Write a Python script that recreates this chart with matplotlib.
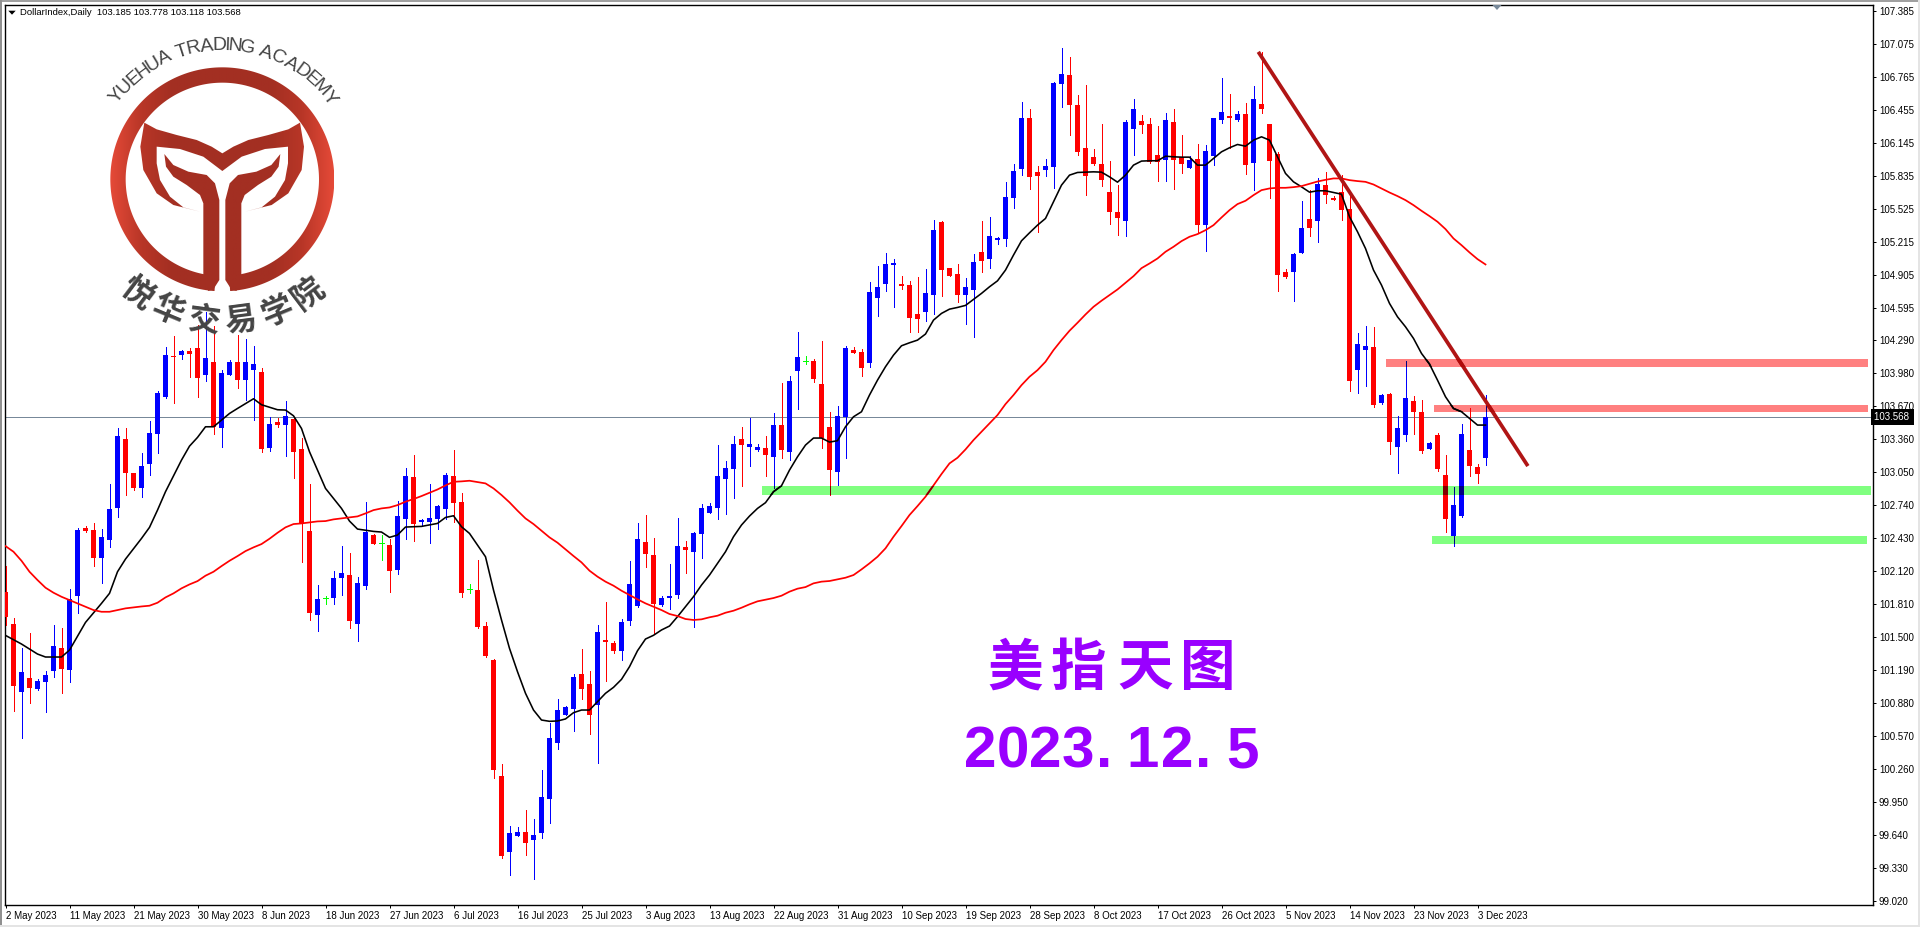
import numpy as np
import matplotlib
matplotlib.use("Agg")
import matplotlib.pyplot as plt
from matplotlib.colors import LinearSegmentedColormap, to_rgb
from matplotlib.font_manager import FontProperties
from matplotlib.patches import PathPatch, Polygon, Rectangle
from matplotlib.path import Path
from matplotlib.textpath import TextPath


COL_UP = "#0000FF"
COL_DOWN = "#FF0000"
COL_DOJI = "#00FF00"
COL_LAST = "#778899"
COL_TREND = "#B01515"
COL_TEXT = "#9900FF"
COL_LOGO_TEXT = "#444444"
UI_FONT = "Liberation Sans"
CJK_FONT = "Noto Sans CJK SC"

plt.rcParams.update({
    "font.family": [UI_FONT, "DejaVu Sans"],
    "font.size": 7.0,
    "axes.linewidth": 1.0,
    "xtick.major.size": 2.4,
    "ytick.major.size": 2.4,
    "xtick.major.width": 0.72,
    "ytick.major.width": 0.72,
})

# r = down, b = up, g = doji
SIDES = (
    "rrbrbbbrbb" "rrbbbrrbbb" "brbrrbrbbr" "bbrbrbrrrb" "gbbrbbrgrb"
    "brbbbbrrgr" "rrrbbrbbbb" "bbrrbrrbbb" "rrbbbrbbbb" "bbrbbrbrbb"
    "grrrbbrrbb" "bbrrrbbrrr" "bbrbbbbbrr" "bbbrrrrrrr" "bbrrrbrrbr"
    "bbbrbrbrrr" "rbbrbrrrrb" "brbrbbrrbr" "rbbrrb"
)

HIGH = [
    102.169, 101.678, 101.396, 101.537, 101.105, 101.180, 101.615, 101.584, 101.950, 102.523,
    102.545, 102.570, 102.514, 102.940, 103.462, 103.462, 103.043, 103.228, 103.528, 103.810,
    104.223, 104.330, 104.198, 104.214, 104.433, 104.558, 104.424, 104.010, 104.104, 104.339,
    104.302, 104.236, 104.026, 103.566, 103.556, 103.719, 103.572, 103.372, 102.940, 101.991,
    101.891, 102.119, 102.357, 102.291, 102.066, 102.770, 102.470, 102.461, 102.423, 102.780,
    103.090, 103.212, 102.611, 102.940, 102.742, 103.043, 103.259, 102.855, 102.000, 102.226,
    101.644, 101.293, 100.310, 99.724, 99.715, 99.878, 99.796, 100.254, 100.692, 100.924,
    100.852, 101.155, 101.390, 101.187, 101.616, 101.829, 101.462, 101.669, 102.220, 102.574,
    102.649, 102.433, 101.891, 102.192, 102.621, 102.408, 102.492, 102.752, 102.762, 103.309,
    103.153, 103.391, 103.475, 103.563, 103.319, 103.390, 103.606, 103.888, 103.954, 104.367,
    104.139, 104.114, 104.283, 103.616, 103.672, 104.236, 104.226, 104.208, 104.837, 104.987,
    105.109, 105.053, 104.893, 104.846, 104.884, 104.959, 105.419, 105.410, 104.968, 105.006,
    104.875, 105.100, 105.410, 105.447, 105.260, 105.776, 105.945, 106.528, 106.462, 105.927,
    105.992, 106.716, 107.035, 106.950, 106.593, 106.687, 106.086, 106.321, 105.974, 105.748,
    106.359, 106.556, 106.406, 106.377, 106.302, 106.424, 106.462, 106.218, 106.020, 106.133,
    106.124, 106.377, 106.753, 106.603, 106.443, 106.518, 106.678, 107.000, 106.321, 106.061,
    104.959, 105.109, 105.598, 105.701, 105.814, 105.870, 105.645, 105.842, 105.685, 104.358,
    104.424, 104.414, 103.785, 103.794, 103.578, 104.095, 103.766, 103.729, 103.334, 103.419,
    103.212, 102.911, 103.503, 103.653, 103.127, 103.778,
]

BODY_TOP = [
    101.925, 101.625, 101.174, 101.117, 101.089, 101.145, 101.418, 101.396, 101.856, 102.507,
    102.526, 102.507, 102.439, 102.702, 103.390, 103.359, 103.043, 103.109, 103.415, 103.791,
    104.148, 104.142, 104.189, 104.189, 104.214, 104.123, 104.085, 103.982, 104.085, 104.085,
    104.085, 104.067, 103.992, 103.503, 103.522, 103.578, 103.550, 103.265, 102.498, 101.859,
    101.869, 102.057, 102.104, 102.085, 102.010, 102.489, 102.461, 102.385, 102.367, 102.639,
    103.015, 103.005, 102.601, 102.620, 102.733, 103.024, 103.015, 102.770, 101.953, 101.944,
    101.606, 101.287, 100.197, 99.659, 99.668, 99.668, 99.640, 100.003, 100.551, 100.814,
    100.842, 101.130, 101.158, 101.065, 101.550, 101.475, 101.446, 101.644, 101.998, 102.423,
    102.398, 102.276, 101.866, 101.885, 102.361, 102.351, 102.483, 102.715, 102.733, 103.012,
    103.087, 103.319, 103.366, 103.319, 103.291, 103.278, 103.494, 103.494, 103.907, 104.132,
    104.095, 104.095, 103.879, 103.475, 103.578, 104.217, 104.198, 104.179, 104.743, 104.790,
    105.006, 105.015, 104.818, 104.809, 104.536, 104.734, 105.325, 105.401, 104.968, 104.912,
    104.790, 105.025, 105.119, 105.269, 105.250, 105.635, 105.880, 106.377, 106.377, 105.870,
    105.927, 106.706, 106.791, 106.781, 106.500, 106.096, 106.011, 105.945, 105.682, 105.494,
    106.340, 106.462, 106.349, 106.321, 106.030, 106.359, 106.340, 106.011, 105.983, 105.992,
    106.067, 106.377, 106.434, 106.396, 106.415, 106.415, 106.556, 106.509, 106.321, 106.039,
    104.931, 105.100, 105.344, 105.429, 105.757, 105.748, 105.626, 105.682, 105.523, 104.255,
    104.236, 104.226, 103.775, 103.785, 103.465, 103.747, 103.719, 103.616, 103.325, 103.400,
    103.024, 102.742, 103.409, 103.259, 103.099, 103.568,
]

BODY_BOT = [
    101.693, 101.045, 100.989, 101.027, 101.017, 101.080, 101.186, 101.205, 101.196, 101.891,
    102.498, 102.248, 102.248, 102.417, 102.717, 103.046, 102.905, 102.905, 103.131, 103.412,
    103.760, 104.136, 104.154, 104.161, 103.938, 103.963, 103.478, 103.469, 103.963, 103.916,
    103.916, 104.010, 103.271, 103.278, 103.491, 103.494, 103.243, 102.564, 101.728, 101.709,
    101.869, 101.869, 102.057, 101.653, 101.625, 101.981, 102.376, 102.385, 102.122, 102.132,
    102.611, 102.564, 102.583, 102.583, 102.611, 102.705, 102.761, 101.916, 101.953, 101.596,
    101.324, 100.254, 99.446, 99.483, 99.630, 99.565, 99.593, 99.659, 99.978, 100.507,
    100.767, 100.823, 101.018, 100.767, 100.861, 101.456, 101.371, 101.371, 101.653, 101.791,
    102.286, 101.810, 101.800, 101.866, 101.894, 102.323, 102.304, 102.470, 102.668, 102.715,
    102.984, 103.078, 103.309, 103.291, 103.262, 103.212, 103.193, 103.259, 103.240, 104.001,
    104.095, 103.926, 103.372, 103.071, 103.052, 103.569, 104.170, 104.029, 104.076, 104.687,
    104.818, 104.997, 104.799, 104.499, 104.489, 104.555, 104.715, 104.950, 104.893, 104.715,
    104.715, 104.762, 105.034, 105.053, 105.231, 105.241, 105.626, 105.898, 105.823, 105.833,
    105.889, 105.917, 106.697, 106.500, 106.058, 105.833, 105.945, 105.795, 105.494, 105.438,
    105.410, 106.274, 106.312, 105.964, 105.964, 105.983, 105.983, 105.945, 105.908, 105.372,
    105.372, 106.020, 106.359, 106.377, 106.359, 105.936, 105.955, 106.462, 105.974, 104.903,
    104.884, 104.931, 105.109, 105.344, 105.410, 105.654, 105.607, 105.513, 103.907, 104.010,
    104.198, 103.682, 103.700, 103.334, 103.287, 103.400, 103.616, 103.249, 103.268, 103.080,
    102.611, 102.451, 102.639, 103.109, 103.033, 103.185,
]

LOW = [
    101.615, 100.810, 100.551, 100.879, 101.005, 100.801, 101.130, 100.980, 101.083, 101.731,
    102.489, 102.169, 102.013, 102.351, 102.633, 102.839, 102.883, 102.821, 103.024, 103.234,
    103.750, 103.697, 104.117, 103.948, 103.760, 103.907, 103.409, 103.290, 103.963, 103.844,
    103.729, 103.544, 103.243, 103.253, 103.478, 103.203, 102.999, 102.207, 101.662, 101.559,
    101.816, 101.812, 101.897, 101.587, 101.465, 101.953, 102.376, 102.226, 101.925, 102.094,
    102.423, 102.404, 102.545, 102.385, 102.517, 102.611, 102.583, 101.878, 101.916, 101.587,
    101.315, 100.178, 99.424, 99.267, 99.630, 99.452, 99.230, 99.612, 99.753, 100.451,
    100.767, 100.617, 100.924, 100.589, 100.319, 101.093, 101.353, 101.287, 101.616, 101.782,
    102.163, 101.540, 101.791, 101.763, 101.866, 102.107, 101.597, 102.248, 102.668, 102.611,
    102.658, 102.805, 102.918, 103.106, 103.253, 103.018, 102.905, 103.184, 103.165, 103.644,
    104.064, 103.898, 103.278, 102.836, 102.930, 103.184, 104.170, 103.954, 104.039, 104.518,
    104.752, 104.602, 104.771, 104.367, 104.367, 104.471, 104.536, 104.705, 104.893, 104.649,
    104.442, 104.320, 104.931, 104.968, 105.194, 105.175, 105.532, 105.842, 105.710, 105.307,
    105.833, 105.720, 106.481, 106.218, 106.030, 105.654, 105.936, 105.739, 105.382, 105.278,
    105.269, 106.030, 106.237, 105.955, 105.786, 105.786, 105.710, 105.861, 105.908, 105.297,
    105.128, 105.936, 106.330, 106.096, 106.349, 105.851, 105.701, 106.424, 105.626, 104.752,
    104.874, 104.658, 105.109, 105.269, 105.213, 105.579, 105.607, 105.419, 103.813, 103.794,
    103.860, 103.663, 103.691, 103.221, 103.043, 103.343, 103.409, 103.231, 103.268, 103.062,
    102.489, 102.357, 102.630, 103.015, 102.949, 103.118,
]

# fast average (the first stretch at every second bar or so)
FAST_BARS = [
    0, 2, 4, 5, 7, 8, 10, 12, 13, 14, 15, 17, 18, 19, 20, 22, 23, 24, 25, 26,
    28, 29, 31, 32, 34, 35, 36, 37, 38, 39, 40, 41, 42, 43, 44, 46, 47, 48, 49, 50,
    52, 54, 55, 56, 57, 58, 59,
] + list(range(60, 186))

FAST_MA = [
    101.518, 101.437, 101.343, 101.315, 101.315, 101.380, 101.640, 101.819, 101.913, 102.116,
    102.235, 102.429, 102.533, 102.695, 102.868, 103.165, 103.296, 103.378, 103.478, 103.478,
    103.603, 103.650, 103.741, 103.685, 103.638, 103.635, 103.581, 103.462, 103.243, 103.071,
    102.899, 102.805, 102.711, 102.592, 102.517, 102.495, 102.489, 102.439, 102.461, 102.536,
    102.542, 102.570, 102.626, 102.642, 102.539, 102.476, 102.367,
    102.257, 101.944, 101.663, 101.396, 101.177, 100.974, 100.817, 100.723, 100.711, 100.714,
    100.733, 100.792, 100.817, 100.817, 100.895, 100.974, 101.030, 101.105, 101.224, 101.374,
    101.484, 101.519, 101.569, 101.606, 101.694, 101.788, 101.882, 101.991, 102.085, 102.195,
    102.304, 102.445, 102.555, 102.639, 102.711, 102.765, 102.868, 102.924, 103.071, 103.196,
    103.306, 103.372, 103.372, 103.334, 103.347, 103.478, 103.572, 103.619, 103.776, 103.916,
    104.042, 104.151, 104.239, 104.267, 104.292, 104.349, 104.480, 104.543, 104.583, 104.599,
    104.618, 104.674, 104.731, 104.793, 104.849, 104.950, 105.091, 105.225, 105.300, 105.372,
    105.435, 105.592, 105.748, 105.842, 105.867, 105.870, 105.873, 105.870, 105.826, 105.776,
    105.842, 105.936, 105.974, 105.977, 105.977, 106.020, 106.014, 106.011, 106.011, 105.936,
    105.936, 105.999, 106.061, 106.099, 106.130, 106.114, 106.171, 106.202, 106.171, 106.014,
    105.858, 105.779, 105.732, 105.682, 105.695, 105.695, 105.679, 105.663, 105.451, 105.310,
    105.153, 104.950, 104.809, 104.637, 104.511, 104.417, 104.308, 104.167, 104.067, 103.916,
    103.760, 103.650, 103.619, 103.556, 103.494, 103.494,
]

SLOW_MA = [
    102.357, 102.304, 102.219, 102.116, 102.038, 101.966, 101.919, 101.881, 101.850, 101.819,
    101.787, 101.756, 101.740, 101.740, 101.756, 101.772, 101.781, 101.790, 101.797, 101.825,
    101.875, 101.913, 101.960, 101.997, 102.028, 102.079, 102.116, 102.169, 102.219, 102.263,
    102.310, 102.345, 102.376, 102.426, 102.482, 102.533, 102.564, 102.570, 102.579, 102.589,
    102.592, 102.608, 102.617, 102.626, 102.636, 102.664, 102.695, 102.711, 102.720, 102.742,
    102.774, 102.799, 102.827, 102.858, 102.889, 102.927, 102.961, 102.965, 102.971, 102.958,
    102.946, 102.899, 102.837, 102.768, 102.690, 102.617, 102.564, 102.502, 102.439, 102.389,
    102.326, 102.264, 102.204, 102.126, 102.070, 102.023, 101.985, 101.938, 101.897, 101.857,
    101.819, 101.788, 101.756, 101.719, 101.700, 101.672, 101.663, 101.669, 101.688, 101.703,
    101.731, 101.750, 101.778, 101.810, 101.838, 101.854, 101.869, 101.891, 101.929, 101.957,
    101.972, 102.007, 102.023, 102.029, 102.045, 102.060, 102.085, 102.138, 102.195, 102.257,
    102.336, 102.445, 102.545, 102.649, 102.733, 102.821, 102.927, 103.034, 103.134, 103.187,
    103.265, 103.353, 103.431, 103.509, 103.588, 103.691, 103.776, 103.869, 103.948, 104.010,
    104.089, 104.198, 104.292, 104.380, 104.455, 104.533, 104.605, 104.662, 104.715, 104.768,
    104.831, 104.893, 104.968, 105.012, 105.059, 105.122, 105.169, 105.222, 105.263, 105.288,
    105.325, 105.372, 105.444, 105.513, 105.570, 105.601, 105.654, 105.701, 105.717, 105.723,
    105.723, 105.729, 105.739, 105.761, 105.782, 105.798, 105.811, 105.811, 105.795, 105.786,
    105.779, 105.754, 105.717, 105.679, 105.645, 105.607, 105.560, 105.507, 105.457, 105.404,
    105.335, 105.247, 105.184, 105.116, 105.053, 105.003,
]

LAST_PRICE = 103.568
TREND_BARS = [156.6, 190.3]
TREND_PRICES = [107.000, 103.109]

ZONE_BARS = [94.5, 172.6, 178.6, 178.3]
ZONE_ENDS = [233.2, 232.8, 232.8, 232.7]
ZONE_TOPS = [102.921, 104.114, 103.682, 102.451]
ZONE_BOTS = [102.836, 104.039, 103.616, 102.379]
ZONE_COLORS = ["#80FF80", "#FF8080", "#FF8080", "#80FF80"]

PRICE_TICKS = [
    107.385, 107.075, 106.765, 106.455, 106.145, 105.835, 105.525, 105.215, 104.905, 104.595,
    104.290, 103.980, 103.670, 103.360, 103.050, 102.740, 102.430, 102.120, 101.810, 101.500,
    101.190, 100.880, 100.570, 100.260, 99.950, 99.640, 99.330, 99.020,
]

DATE_LABELS = [
    "2 May 2023", "11 May 2023", "21 May 2023", "30 May 2023", "8 Jun 2023", "18 Jun 2023",
    "27 Jun 2023", "6 Jul 2023", "16 Jul 2023", "25 Jul 2023", "3 Aug 2023", "13 Aug 2023",
    "22 Aug 2023", "31 Aug 2023", "10 Sep 2023", "19 Sep 2023", "28 Sep 2023", "8 Oct 2023",
    "17 Oct 2023", "26 Oct 2023", "5 Nov 2023", "14 Nov 2023", "23 Nov 2023", "3 Dec 2023",
]

HEADER = "DollarIndex,Daily  103.185 103.778 103.118 103.568"
TITLE_CHARS = ["美", "指", "天", "图"]
TITLE_X = [1015, 1078, 1145, 1208]
DATE_CHARS = list("2023.12.5")
DATE_X = [980, 1013, 1045, 1078, 1104, 1143, 1177, 1203, 1242]

W, H = 1920, 927
AX_LEFT, AX_RIGHT, AX_TOP, AX_BOTTOM = 4.5, 1872.5, 4.5, 904.5
BAR_LIMITS = (-0.125, 233.375)
PRICE_LIMITS = (98.990, 107.445)

# logo outline, in pixels of the 3x crop
LOGO_CX, LOGO_CY = 667.0, 538.0
WING = [
    (433, 368), (470, 388), (530, 405), (590, 420), (635, 440), (667, 460),
    (700, 440), (745, 420), (805, 405), (865, 388), (900, 368), (912, 440),
    (905, 510), (865, 580), (815, 615), (735, 635), (785, 622), (825, 590),
    (855, 540), (864, 490), (864, 440), (795, 447), (725, 470), (667, 513),
    (610, 470), (540, 447), (470, 440), (470, 490), (480, 540), (510, 590),
    (550, 622), (600, 635), (520, 615), (470, 580), (430, 510), (421, 440),
]
STEM = [
    (493, 462), (520, 495), (565, 515), (620, 525), (645, 550), (658, 600),
    (658, 840), (640, 868), (625, 873), (610, 850), (610, 610), (600, 585),
    (560, 555), (520, 530), (498, 500),
]


def tinted(color, tint):
    return tuple(c * t for c, t in zip(to_rgb(color), to_rgb(tint)))


def draw_marks(ax, tint="#FFFFFF", clip=None):
    sides = np.array(list(SIDES))
    high, low = np.array(HIGH), np.array(LOW)
    top, bot = np.array(BODY_TOP), np.array(BODY_BOT)
    made = []

    for side, color in (("r", COL_DOWN), ("b", COL_UP), ("g", COL_DOJI)):
        idx = np.flatnonzero(sides == side)
        col = tinted(color, tint)
        made.append(ax.vlines(idx, low[idx], high[idx], color=col, lw=0.72, antialiased=False, zorder=3))
        if side == "g":
            made.append(ax.hlines(top[idx], idx - 0.31, idx + 0.31, color=col, lw=0.72, antialiased=False, zorder=3))
        else:
            height = np.maximum(top[idx] - bot[idx], 0.012)
            bars = ax.bar(idx, height, bottom=top[idx] - height, width=0.625, color=col, linewidth=0, antialiased=False, zorder=3)
            made.extend(bars.patches)

    made += ax.plot(FAST_BARS, FAST_MA, color=tinted("#000000", tint), lw=1.15, zorder=4)
    made += ax.plot(range(len(SLOW_MA)), SLOW_MA, color=tinted(COL_DOWN, tint), lw=1.25, zorder=4)
    made += ax.plot(TREND_BARS, TREND_PRICES, color=tinted(COL_TREND, tint), lw=2.7, solid_capstyle="butt", zorder=5)

    if clip is not None:
        for art in made:
            art.set_clip_path(clip)


def setup_axes(fig):
    ax = fig.add_axes([
        AX_LEFT / W, (H - AX_BOTTOM) / H,
        (AX_RIGHT - AX_LEFT) / W, (AX_BOTTOM - AX_TOP) / H,
    ])
    ax.set_xlim(*BAR_LIMITS)
    ax.set_ylim(*PRICE_LIMITS)
    ax.yaxis.tick_right()
    ax.set_yticks(PRICE_TICKS, [f"{p:.3f}" for p in PRICE_TICKS])
    ax.set_xticks(np.arange(len(DATE_LABELS)) * 8, DATE_LABELS, ha="left")
    ax.tick_params(axis="x", pad=2.6)
    ax.tick_params(axis="y", pad=2.2)
    return ax


def draw_logo(ov):
    cmap = LinearSegmentedColormap.from_list("logo", [
        (0.0, "#E54A38"), (0.14, "#B83627"), (0.28, "#A32F22"),
        (0.72, "#A32F22"), (0.86, "#B83627"), (1.0, "#E54A38"),
    ])
    grad = np.linspace(0, 1, 256).reshape(1, -1)

    theta = np.radians(np.linspace(4, 356, 300))
    outer = np.c_[LOGO_CX - 336 * np.sin(theta), LOGO_CY + 336 * np.cos(theta)]
    inner = np.c_[LOGO_CX - 290 * np.sin(theta), LOGO_CY + 290 * np.cos(theta)][::-1]
    ring = np.vstack([outer, inner])
    stem = np.array(STEM, dtype=float)
    stem_right = np.c_[2 * LOGO_CX - stem[:, 0], stem[:, 1]]

    for shape in (ring, np.array(WING, dtype=float), stem, stem_right):
        clip = PathPatch(Path(np.vstack([shape, shape[:1]]) / 3.0, closed=True), transform=ov.transData)
        img = ov.imshow(
            grad, cmap=cmap, aspect="auto", zorder=6,
            extent=((LOGO_CX - 336) / 3, (LOGO_CX + 336) / 3, (LOGO_CY + 336) / 3, (LOGO_CY - 336) / 3),
        )
        img.set_clip_path(clip)

    cx, cy = LOGO_CX / 3, LOGO_CY / 3
    name = "YUEHUA TRADING ACADEMY"
    prop = FontProperties(family=UI_FONT)
    widths = [
        0.28 if ch == " " else TextPath((0, 0), ch, size=1, prop=prop).get_extents().width + 0.07
        for ch in name
    ]
    edges = np.cumsum([0] + widths)
    mids = (edges[:-1] + edges[1:]) / 2 / edges[-1]
    for ch, frac in zip(name, mids):
        ang = np.radians(-54.5 + 110 * frac)
        ov.text(cx + 134 * np.sin(ang), cy - 134 * np.cos(ang), ch, rotation=-np.degrees(ang),
                rotation_mode="anchor", ha="center", va="center", fontsize=14, family=UI_FONT,
                color=COL_LOGO_TEXT, zorder=7)

    for ch, deg in zip("悦华交易学院", [37, 22.5, 7.5, -7.5, -22.5, -37]):
        ang = np.radians(deg)
        ov.text(cx - 143 * np.sin(ang), cy + 143 * np.cos(ang), ch, rotation=-deg,
                rotation_mode="anchor", ha="center", va="center", fontsize=23, family=CJK_FONT,
                weight="bold", color=COL_LOGO_TEXT, zorder=7)


def draw_overlay(fig):
    ov = fig.add_axes([0, 0, 1, 1], facecolor="none")
    ov.set_axis_off()

    draw_logo(ov)
    ov.set_xlim(0, W)
    ov.set_ylim(H, 0)

    ov.add_patch(Rectangle((0, 0), W, 2, fc="#A0A0A0", ec="none"))
    ov.add_patch(Rectangle((0, 0), 2, H, fc="#909090", ec="none"))
    ov.add_patch(Rectangle((0, 925), W, 2, fc="#E4E4E4", ec="none"))
    ov.add_patch(Rectangle((1918, 0), 2, H, fc="#E4E4E4", ec="none"))
    ov.add_patch(Polygon([(8.3, 10.7), (15.7, 10.7), (12, 14.7)], fc="black", ec="none"))
    ov.add_patch(Polygon([(1492.5, 5), (1501.5, 5), (1497, 10)], fc=COL_LAST, ec="none"))

    ov.text(20, 12.5, HEADER, ha="left", va="center", fontsize=6.8, color="black")

    for ch, x in zip(TITLE_CHARS, TITLE_X):
        ov.text(x, 669, ch, ha="center", va="center", fontsize=40, family=CJK_FONT, weight="bold", color=COL_TEXT)
    for ch, x in zip(DATE_CHARS, DATE_X):
        ov.text(x, 752, ch, ha="center", va="center", fontsize=42, family=UI_FONT, weight="bold", color=COL_TEXT)


def main():
    fig = plt.figure(figsize=(W / 100, H / 100), dpi=100, facecolor="white")
    ax = setup_axes(fig)

    ax.axhline(LAST_PRICE, color=COL_LAST, lw=0.72, zorder=2)

    zones = []
    for x0, x1, top, bot, col in zip(ZONE_BARS, ZONE_ENDS, ZONE_TOPS, ZONE_BOTS, ZONE_COLORS):
        zones.append(ax.add_patch(Rectangle((x0, bot), x1 - x0, top - bot, fc=col, ec="none", zorder=1)))

    draw_marks(ax)
    # rectangles darken what crosses them, like the terminal's own fill
    for zone, col in zip(zones, ZONE_COLORS):
        draw_marks(ax, tint=col, clip=zone)

    ax.set_xlim(*BAR_LIMITS)
    ax.set_ylim(*PRICE_LIMITS)

    ax.text(1.0008, LAST_PRICE, f"{LAST_PRICE:.3f} ", transform=ax.get_yaxis_transform(),
            color="white", va="center", ha="left", fontsize=7.0, clip_on=False,
            bbox=dict(fc="black", ec="none", boxstyle="square,pad=0.28"))

    draw_overlay(fig)
    fig.savefig("out.png", dpi=100)


if __name__ == "__main__":
    main()
